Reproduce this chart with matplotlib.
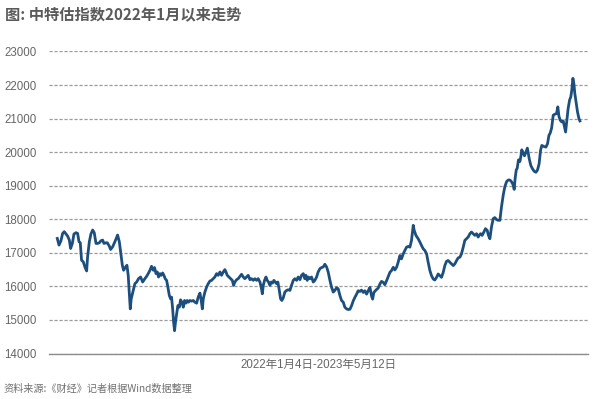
import matplotlib
matplotlib.use("Agg")
import matplotlib.pyplot as plt
from matplotlib.ticker import MultipleLocator

plt.rcParams["font.family"] = ["Noto Sans CJK SC", "DejaVu Sans"]

# 交易日序号（自 2022-01-04 起，约）与中特估指数收盘点位
day = [
    0.0, 1.1, 2.3, 3.4, 4.4, 5.5, 6.5, 7.6, 8.4, 9.5, 10.5, 11.8, 12.8, 13.7, 14.5,
    15.3, 16.4, 17.4, 18.5, 19.1, 20.2, 21.2, 22.3, 23.3, 24.4, 25.4, 26.5, 27.5,
    28.6, 29.4, 30.7, 31.5, 32.8, 33.6, 34.9, 36.3, 38.0, 39.1, 39.9, 41.0, 41.8,
    42.8, 43.9, 44.7, 45.6, 46.0, 46.6, 47.9, 48.9, 50.0, 51.2, 52.5, 53.8, 55.2,
    56.3, 57.3,
    58.4, 59.4, 60.5, 61.3, 62.2, 63.0, 63.8, 64.7, 65.5, 66.4, 67.2, 68.0, 68.9,
    69.7, 70.6, 71.4, 72.0, 72.7, 73.3, 73.9, 74.6, 75.2, 76.0, 76.9, 77.7, 78.5,
    79.4, 80.2, 81.1, 81.9, 82.7, 83.6, 84.6, 85.7, 86.7, 87.8, 88.8, 89.9, 90.7,
    91.4, 92.0, 93.0, 94.1, 95.1, 96.2, 97.2, 98.3, 99.3, 100.4, 101.4, 102.5,
    103.5, 104.6, 105.6, 106.3, 107.1, 108.2, 109.2, 110.3, 111.1, 111.9, 113.0,
    114.0, 115.1, 116.1, 117.2, 118.2, 119.3, 120.3,
    121.4, 122.4, 123.5, 124.5, 125.6, 126.6, 127.7, 128.5, 129.2, 129.8, 130.6,
    131.5, 132.3, 133.1, 134.0, 134.8, 135.7, 136.5, 137.3, 138.2, 139.0, 139.9,
    140.7, 141.5, 142.4, 143.4, 144.5, 145.5, 146.6, 147.6, 148.7, 149.7, 150.8,
    151.8, 152.9, 153.9, 155.0, 156.0, 156.7, 157.5, 158.3, 159.2, 160.2, 161.3,
    162.3, 163.4, 164.4, 165.5, 166.5, 167.6, 168.6, 169.7, 170.7, 171.8, 172.8,
    173.9, 174.9, 176.0, 177.0, 178.1, 179.1, 180.2, 181.2, 182.3, 183.3,
    184.4, 185.4, 186.5, 187.5, 188.6, 189.6, 190.7, 191.7, 192.8, 193.8, 194.9,
    195.9, 197.0, 198.0, 198.7, 199.5, 200.8, 202.2, 203.3, 204.3, 205.4, 206.4,
    207.5, 208.5, 209.6, 210.6, 211.7, 212.7, 213.8, 214.8, 215.9, 216.9, 218.0,
    219.0, 220.1, 221.1, 222.2, 223.2, 224.3, 224.9, 226.0, 227.4, 228.5, 229.5,
    230.6, 231.6, 232.7, 233.7, 234.8, 235.8, 236.9, 237.9, 239.0, 240.0, 241.1,
    242.1, 243.2, 244.2, 245.3, 246.3, 247.4, 248.4, 249.5, 250.5, 251.6, 252.6,
    253.7, 254.7, 255.8,
    256.8, 257.9, 258.9, 260.0, 261.0, 262.1, 263.1, 264.2, 265.2, 265.8, 266.7,
    267.7, 268.8, 269.8, 270.9, 271.7, 272.6, 273.6, 274.7, 275.7, 276.8, 277.8,
    278.9, 279.9, 281.0, 282.0, 283.1, 284.1, 285.2, 286.2, 287.3, 287.9, 288.5,
    289.2, 289.8, 290.6, 291.5, 292.1, 292.7, 293.6, 294.4,
    296.2, 297.4, 298.4, 299.5, 300.5, 301.6, 302.6, 303.6, 304.5, 305.3, 306.6,
    307.9, 308.9, 309.8, 310.6, 311.5, 312.5, 313.5, 314.6, 315.4, 316.1, 316.9,
    317.9, 318.8, 319.6, 320.3, 321.1, 321.9, 322.8, 323.6, 324.2, 324.9, 325.5,
    326.1, 327.0, 327.8, 328.7, 329.3,
]
index_value = [
    17430, 17230, 17360, 17580, 17630, 17560, 17500, 17380, 17130, 17280, 17560,
    17600, 17580, 17330, 17300, 16780, 16730, 16580, 16460, 16880, 17330, 17560,
    17680, 17600, 17280, 17280, 17300, 17360, 17380, 17280, 17300, 17300, 17200,
    17100, 17180, 17330, 17530, 17330, 17030, 16630, 16480, 16560, 16630, 16330,
    15630, 15330, 15630, 15880, 16080, 16130, 16230, 16280, 16130, 16230, 16300,
    16380,
    16480, 16600, 16480, 16560, 16380, 16430, 16280, 16380, 16330, 16400, 16330,
    16230, 16180, 15980, 15730, 15630, 15680, 15330, 14930, 14680, 14980, 15180,
    15430, 15380, 15600, 15530, 15380, 15580, 15500, 15580, 15530, 15580, 15560,
    15580, 15530, 15500, 15680, 15800, 15580, 15330, 15630, 15830, 15980, 16080,
    16160, 16180, 16230, 16280, 16380, 16330, 16430, 16330, 16430, 16500, 16430,
    16330, 16280, 16230, 16180, 16030, 16130, 16200, 16230, 16300, 16360, 16280,
    16230, 16280, 16330,
    16200, 16230, 16180, 16230, 16180, 16230, 16130, 15980, 15780, 16030, 16180,
    16280, 16180, 16130, 16030, 16130, 16100, 16180, 16130, 16080, 16130, 15880,
    15630, 15580, 15660, 15830, 15880, 15900, 15880, 16030, 16180, 16230, 16180,
    16280, 16200, 16330, 16380, 16230, 16330, 16180, 16280, 16230, 16280, 16130,
    16180, 16280, 16430, 16530, 16560, 16580, 16660, 16580, 16430, 16180, 15980,
    15830, 15880, 15960, 15930, 15730, 15580, 15530, 15380, 15330, 15310,
    15320, 15420, 15570, 15670, 15770, 15870, 15850, 15890, 15820, 15870, 15770,
    15870, 15970, 15720, 15620, 15820, 15890, 15950, 16070, 16150, 16120, 16050,
    16170, 16290, 16420, 16470, 16570, 16490, 16570, 16720, 16920, 16820, 16970,
    17070, 17170, 17190, 17170, 17370, 17820, 17670, 17520, 17420, 17320, 17220,
    17120, 17070, 16970, 16720, 16470, 16320, 16220, 16190, 16270, 16370, 16320,
    16270, 16420, 16620, 16750, 16770, 16720, 16670, 16620, 16670, 16770, 16850,
    16870, 16970, 17170,
    17370, 17420, 17470, 17570, 17620, 17570, 17520, 17570, 17470, 17520, 17570,
    17520, 17620, 17720, 17670, 17520, 17420, 17770, 18020, 18050, 17990, 17970,
    17970, 18370, 18720, 18970, 19120, 19170, 19170, 19120, 19020, 18890, 19220,
    19470, 19520, 19770, 19720, 19870, 20070, 19970, 19890,
    20120, 19800, 19600, 19500, 19430, 19400, 19470, 19650, 20050, 20200, 20170,
    20150, 20250, 20500, 20570, 20720, 21100, 21130, 21150, 21350, 21070, 20950,
    20900, 20930, 20750, 20600, 20950, 21300, 21550, 21650, 21850, 22200, 22050,
    21750, 21450, 21200, 21000, 20930,
]

y_ticks = list(range(14000, 23001, 1000))

title_text = "图: 中特估指数2022年1月以来走势"
period_text = "2022年1月4日-2023年5月12日"
source_text = "资料来源:《财经》记者根据Wind数据整理"

GRAY = "#666666"
LINE = "#1d4f7e"

fig = plt.figure(figsize=(6.0, 3.99), dpi=100)
ax = fig.add_axes([0.0817, 0.114, 0.898, 0.757])

ax.plot(day, index_value, color=LINE, linewidth=2.0, solid_joinstyle="round")

ax.set_xlim(-5.2, 334.3)
ax.set_ylim(14000, 23000)
ax.set_yticks(y_ticks)
ax.set_xticks([])
ax.yaxis.grid(True, color="#9a9a9a", linestyle=(0, (2.5, 1.5)), linewidth=0.9)
ax.set_axisbelow(True)

for side in ("top", "right", "left"):
    ax.spines[side].set_visible(False)
ax.spines["bottom"].set_color("#8c8c8c")
ax.spines["bottom"].set_linewidth(1.0)

ax.tick_params(axis="y", length=0, pad=9, labelsize=8.3, labelcolor=GRAY)
for lbl in ax.get_yticklabels():
    lbl.set_fontfamily(["Liberation Sans", "DejaVu Sans"])

ax.set_xlabel(period_text, fontsize=8.3, color=GRAY, labelpad=4,
              fontfamily=["Liberation Sans", "Noto Sans CJK SC"])

fig.text(0.008, 0.963, title_text, fontsize=11, fontweight="bold",
         color="#5a5a5a", ha="left", va="center")
fig.text(0.006, 0.027, source_text, fontsize=7.3, color="#707070",
         ha="left", va="center")

fig.savefig("out.png", dpi=100)
